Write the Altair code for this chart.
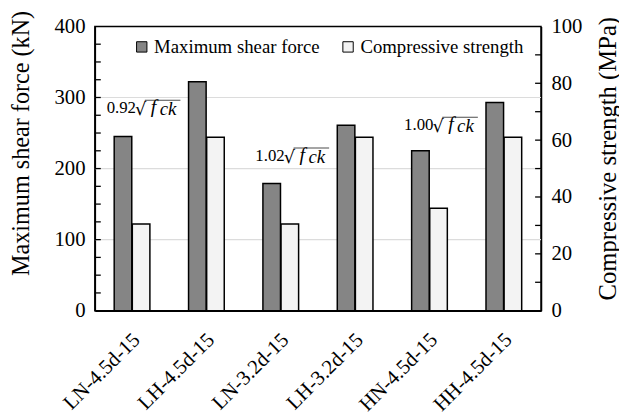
import altair as alt
import pandas as pd

specimens = ["LN-4.5d-15", "LH-4.5d-15", "LN-3.2d-15", "LH-3.2d-15", "HN-4.5d-15", "HH-4.5d-15"]
shear_kN = [245, 322, 179, 261, 225, 293]
compressive_MPa = [30.5, 61, 30.5, 61, 36, 61]
series = ["Maximum shear force", "Compressive strength"]
series_fill = ["#858585", "#f3f3f3"]

grid_kN = [100, 200, 300]
left_ticks_kN = [25, 50, 75, 100, 125, 150, 175, 200, 225, 250, 275, 300, 325, 350, 375]
right_ticks_MPa = [10, 20, 30, 40, 50, 60, 70, 80, 90]

ann_specimens = ["LN-4.5d-15", "LN-3.2d-15", "HN-4.5d-15"]
ann_coef = ["0.92", "1.02", "1.00"]
ann_y_kN = [278, 211, 254]

FONT = "Liberation Serif"
W, H = 452, 288

rows = []
for s, v in zip(specimens, shear_kN):
    rows.append({"specimen": s, "series": series[0], "value": v})
for s, v in zip(specimens, compressive_MPa):
    rows.append({"specimen": s, "series": series[1], "value": v})
bars_df = pd.DataFrame(rows)
comp_df = pd.DataFrame({"specimen": specimens, "mpa": compressive_MPa})
ann_df = pd.DataFrame({"specimen": ann_specimens, "coef": ann_coef, "y": ann_y_kN})

xscale = alt.Scale(domain=specimens, paddingInner=0.52, paddingOuter=0.26)
x_axis = alt.Axis(labelAngle=-45, labelAlign="right", labelBaseline="middle",
                  labelFontSize=21, labelPadding=26, labelOffset=5, ticks=False, tickSize=0,
                  domain=True, title=None, grid=False)
x_enc = alt.X("specimen:N", scale=xscale, axis=x_axis, sort=specimens)

yscale_kN = alt.Scale(domain=[0, 400], nice=False)
y_axis_left = alt.Axis(values=[0, 100, 200, 300, 400], ticks=False, tickSize=0,
                       labelFontSize=21, labelPadding=10, grid=False,
                       title="Maximum shear force (kN)", titleFontSize=24.5,
                       titleX=-74, titleY=118, titleBaseline="middle", titleAlign="center")


def ykn(field):
    return alt.Y(field, scale=yscale_kN, axis=y_axis_left)


grid = alt.Chart(pd.DataFrame({"g": grid_kN})).mark_rule(
    color="#dcdcdc", strokeWidth=1.2
).encode(y=ykn("g:Q"))

bars = alt.Chart(bars_df).transform_calculate(
    plot="datum.series == 'Compressive strength' ? datum.value * 4 : datum.value"
).mark_bar(stroke="black", strokeWidth=1.5).encode(
    x=x_enc,
    xOffset=alt.XOffset("series:N", sort=series, scale=alt.Scale(domain=series, paddingInner=0.03)),
    y=ykn("plot:Q"),
    fill=alt.Fill("series:N", scale=alt.Scale(domain=series, range=series_fill),
                  legend=alt.Legend(title=None, orient="none", legendX=38, legendY=11,
                                    direction="horizontal", symbolType="square",
                                    symbolSize=110, symbolStrokeColor="black",
                                    symbolStrokeWidth=1, labelFontSize=19,
                                    columnPadding=19, labelOffset=3, labelLimit=0)),
)

lticks = alt.Chart(pd.DataFrame({"t": left_ticks_kN})).mark_rule(
    color="black", strokeWidth=1.3
).encode(y=ykn("t:Q"), x=alt.value(0), x2=alt.value(6))

ann_base = alt.Chart(ann_df)
ann_num = ann_base.mark_text(fontSize=17, align="right", baseline="alphabetic",
                             dx=4, color="black").encode(
    x=x_enc, y=ykn("y:Q"), text=alt.Text("coef:N"))
ann_rad = ann_base.mark_text(font="DejaVu Serif", fontSize=18, align="left",
                             baseline="alphabetic", dx=3, dy=2, color="black").encode(
    x=x_enc, y=ykn("y:Q"), text=alt.value("√"))
ann_f = ann_base.mark_text(fontSize=20, fontStyle="italic", align="left",
                           baseline="alphabetic", dx=19, color="black").encode(
    x=x_enc, y=ykn("y:Q"), text=alt.value("f"))
ann_ck = ann_base.mark_text(fontSize=19, fontStyle="italic", align="left",
                            baseline="alphabetic", dx=28, dy=2, color="black").encode(
    x=x_enc, y=ykn("y:Q"), text=alt.value("ck"))
ann_bar = ann_base.mark_tick(color="black", thickness=1, size=36, xOffset=31, yOffset=-13).encode(
    x=x_enc, y=ykn("y:Q"))

left = alt.layer(grid, bars, lticks, ann_num, ann_rad, ann_f, ann_ck, ann_bar)

yscale_mpa = alt.Scale(domain=[0, 100], nice=False)
y_axis_right = alt.Axis(orient="right", values=[0, 20, 40, 60, 80, 100], ticks=False,
                        tickSize=0, labelFontSize=21, labelPadding=10, grid=False,
                        title="Compressive strength (MPa)", titleFontSize=25,
                        titleAngle=270, titleX=67, titleY=133.5, titleBaseline="middle",
                        titleAlign="center")

right_axis = alt.Chart(comp_df).mark_point(opacity=0).encode(
    x=x_enc,
    y=alt.Y("mpa:Q", scale=yscale_mpa, axis=y_axis_right),
)
rticks = alt.Chart(pd.DataFrame({"t": right_ticks_MPa})).mark_rule(
    color="black", strokeWidth=1.3
).encode(y=alt.Y("t:Q", scale=yscale_mpa, axis=y_axis_right),
         x=alt.value(W - 6), x2=alt.value(W))
right = alt.layer(right_axis, rticks)

chart = alt.layer(left, right).resolve_scale(y="independent").properties(
    width=W, height=H,
    autosize=alt.AutoSizeParams(type="none"),
    padding={"left": 88, "top": 16, "right": 79, "bottom": 103},
    background="white"
).configure_view(stroke="black", strokeWidth=1.5).configure_axis(
    labelFont=FONT, titleFont=FONT, labelColor="black", titleColor="black",
    titleFontWeight="normal", domainColor="black", domainWidth=1.5
).configure_legend(labelFont=FONT, labelColor="black").configure_text(font=FONT)

chart.save("out.html", embed_options={"renderer": "svg", "actions": False})
